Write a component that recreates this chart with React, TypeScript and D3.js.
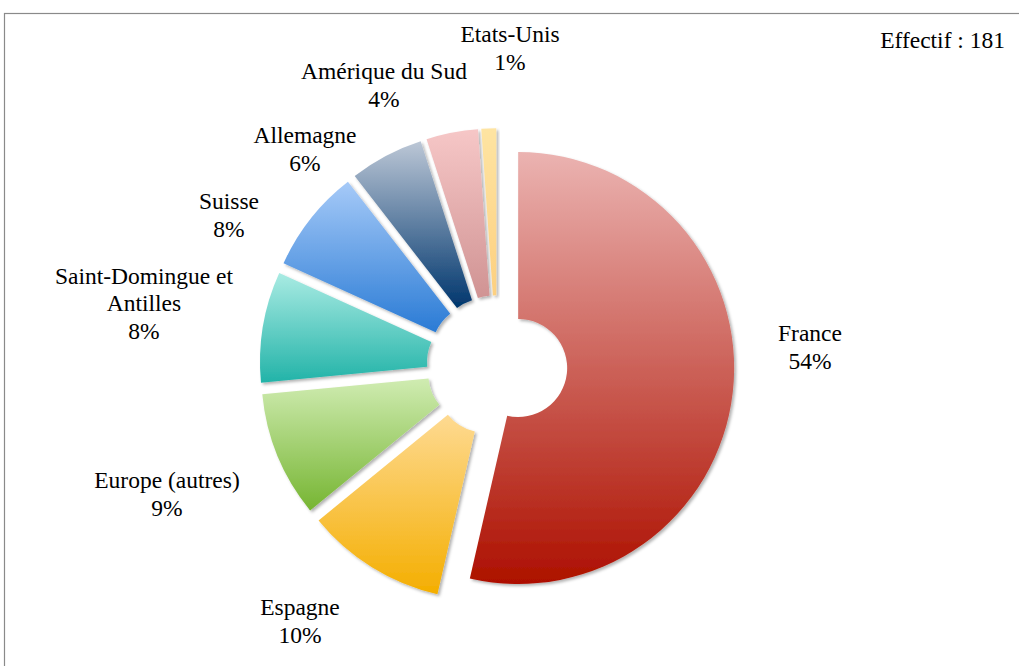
import React from "react";
import * as d3 from "d3";

const categories = ["France", "Espagne", "Europe (autres)", "Saint-Domingue et Antilles", "Suisse", "Allemagne", "Amérique du Sud", "Etats-Unis"];
const counts = [97, 19, 17, 15, 14, 10, 7, 2];
const labelLines = [["France"], ["Espagne"], ["Europe (autres)"], ["Saint-Domingue et", "Antilles"], ["Suisse"], ["Allemagne"], ["Amérique du Sud"], ["Etats-Unis"]];
const totalLabel = "Effectif : 181";

// layout (not data)
const colorTop = ["#EBB3B1", "#FEDA92", "#D0ECB2", "#A9EBE3", "#A6CAF8", "#BCC7D6", "#F6C7C7", "#FEE4A2"];
const colorBottom = ["#AD1000", "#F4AE00", "#76B532", "#22B3A8", "#2A7BD5", "#00366D", "#D09393", "#FDD080"];
const labelAnchors: [number, number][] = [
  [810, 347], [300, 621], [167, 494], [144, 303], [229, 215], [305, 149], [384, 85], [510, 48],
];

const W = 1019, H = 666;
const cx = 497, cy = 365.6, R = 216, r = 49, explode = 21.3;
const lineH = 27.5;
const FONT = "Liberation Serif";
const FS = "23.5px";

export default function App() {
  const total = d3.sum(counts);
  const pie = d3.pie<number>().sort(null).value((v) => v).startAngle(0).endAngle(2 * Math.PI);
  const arcs = pie(counts);
  const arcGen = d3.arc<d3.PieArcDatum<number>>().innerRadius(r).outerRadius(R);
  const pct = (v: number) => `${Math.round((v / total) * 100)}%`;

  return (
    <svg width={W} height={H} style={{ position: "absolute", left: 0, top: 0, background: "#fff" }}>
      <defs>
        {arcs.map((a, i) => (
          <linearGradient key={i} id={`g${i}`} x1="0" y1="0" x2="0" y2="1">
            <stop offset="0" stopColor={colorTop[i]} />
            <stop offset="1" stopColor={colorBottom[i]} />
          </linearGradient>
        ))}
        <filter id="sh" x="-20%" y="-20%" width="140%" height="140%">
          <feDropShadow dx="2" dy="2" stdDeviation="1.6" floodColor="#000" floodOpacity="0.3" />
        </filter>
      </defs>
      <rect x={4.5} y={13.5} width={1030} height={700} fill="#fff" stroke="#8a8a8a" strokeWidth={1.2} />
      <g>
        {arcs.map((a, i) => {
          const mid = (a.startAngle + a.endAngle) / 2;
          const dx = cx + explode * Math.sin(mid);
          const dy = cy - explode * Math.cos(mid);
          return (
            <path key={i} d={arcGen(a) || ""} transform={`translate(${dx},${dy})`} fill={`url(#g${i})`} filter="url(#sh)" />
          );
        })}
      </g>
      <g fill="#000" textAnchor="middle">
        {arcs.map((a, i) => {
          const lines = [...labelLines[i], pct(counts[i])];
          const [lx, ly] = labelAnchors[i];
          const y0 = ly - ((lines.length - 1) * lineH) / 2;
          return (
            <text key={i} x={lx} y={y0} dominantBaseline="central" style={{ fontFamily: FONT, fontSize: FS }}>
              {lines.map((l, j) => (
                <tspan key={j} x={lx} y={y0 + j * lineH}>{l}</tspan>
              ))}
            </text>
          );
        })}
      </g>
      <text x={1005} y={40} textAnchor="end" dominantBaseline="central" style={{ fontFamily: FONT, fontSize: FS }}>{totalLabel}</text>
    </svg>
  );
}
